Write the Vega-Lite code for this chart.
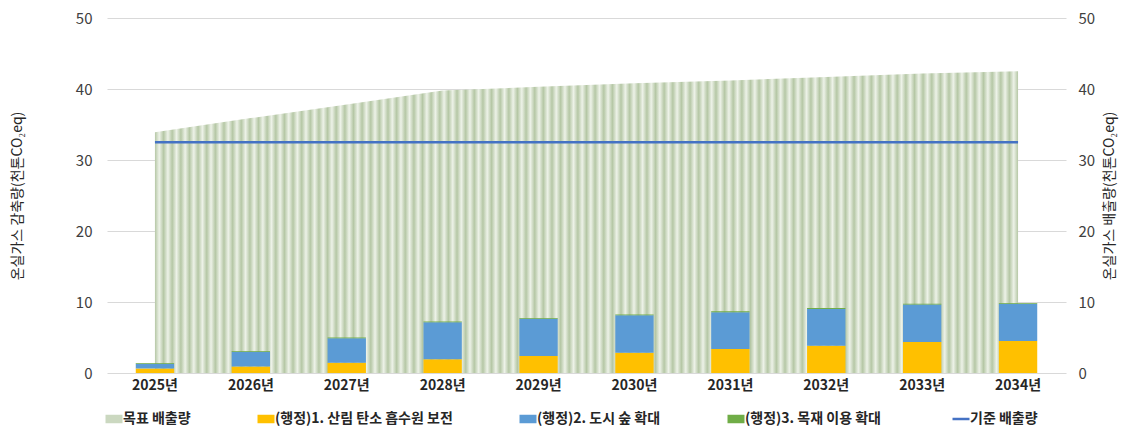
{
  "$schema": "https://vega.github.io/schema/vega-lite/v6.json",
  "width": 959,
  "height": 355,
  "autosize": "none",
  "padding": {"left": 107, "top": 18, "right": 65, "bottom": 61},
  "background": "white",
  "config": {
    "view": {"stroke": null},
    "font": "Noto Sans CJK KR",
    "axis": {"labelFont": "Noto Sans CJK KR", "titleFont": "Noto Sans CJK KR"},
    "legend": {"labelFont": "Noto Sans CJK KR"}
  },
  "datasets": {
    "bars": [
      {"year": "2025년", "series": "(행정)1. 산림 탄소 흡수원 보전", "k": 1, "value": 0.65},
      {"year": "2025년", "series": "(행정)2. 도시 숲 확대", "k": 2, "value": 0.64},
      {"year": "2025년", "series": "(행정)3. 목재 이용 확대", "k": 3, "value": 0.12},
      {"year": "2026년", "series": "(행정)1. 산림 탄소 흡수원 보전", "k": 1, "value": 0.93},
      {"year": "2026년", "series": "(행정)2. 도시 숲 확대", "k": 2, "value": 2.05},
      {"year": "2026년", "series": "(행정)3. 목재 이용 확대", "k": 3, "value": 0.12},
      {"year": "2027년", "series": "(행정)1. 산림 탄소 흡수원 보전", "k": 1, "value": 1.45},
      {"year": "2027년", "series": "(행정)2. 도시 숲 확대", "k": 2, "value": 3.43},
      {"year": "2027년", "series": "(행정)3. 목재 이용 확대", "k": 3, "value": 0.12},
      {"year": "2028년", "series": "(행정)1. 산림 탄소 흡수원 보전", "k": 1, "value": 1.92},
      {"year": "2028년", "series": "(행정)2. 도시 숲 확대", "k": 2, "value": 5.23},
      {"year": "2028년", "series": "(행정)3. 목재 이용 확대", "k": 3, "value": 0.12},
      {"year": "2029년", "series": "(행정)1. 산림 탄소 흡수원 보전", "k": 1, "value": 2.39},
      {"year": "2029년", "series": "(행정)2. 도시 숲 확대", "k": 2, "value": 5.24},
      {"year": "2029년", "series": "(행정)3. 목재 이용 확대", "k": 3, "value": 0.12},
      {"year": "2030년", "series": "(행정)1. 산림 탄소 흡수원 보전", "k": 1, "value": 2.86},
      {"year": "2030년", "series": "(행정)2. 도시 숲 확대", "k": 2, "value": 5.27},
      {"year": "2030년", "series": "(행정)3. 목재 이용 확대", "k": 3, "value": 0.12},
      {"year": "2031년", "series": "(행정)1. 산림 탄소 흡수원 보전", "k": 1, "value": 3.38},
      {"year": "2031년", "series": "(행정)2. 도시 숲 확대", "k": 2, "value": 5.18},
      {"year": "2031년", "series": "(행정)3. 목재 이용 확대", "k": 3, "value": 0.12},
      {"year": "2032년", "series": "(행정)1. 산림 탄소 흡수원 보전", "k": 1, "value": 3.85},
      {"year": "2032년", "series": "(행정)2. 도시 숲 확대", "k": 2, "value": 5.18},
      {"year": "2032년", "series": "(행정)3. 목재 이용 확대", "k": 3, "value": 0.12},
      {"year": "2033년", "series": "(행정)1. 산림 탄소 흡수원 보전", "k": 1, "value": 4.37},
      {"year": "2033년", "series": "(행정)2. 도시 숲 확대", "k": 2, "value": 5.27},
      {"year": "2033년", "series": "(행정)3. 목재 이용 확대", "k": 3, "value": 0.12},
      {"year": "2034년", "series": "(행정)1. 산림 탄소 흡수원 보전", "k": 1, "value": 4.5},
      {"year": "2034년", "series": "(행정)2. 도시 숲 확대", "k": 2, "value": 5.24},
      {"year": "2034년", "series": "(행정)3. 목재 이용 확대", "k": 3, "value": 0.12}
    ],
    "target": [
      {"year": "2025년", "value": 33.9},
      {"year": "2026년", "value": 35.9},
      {"year": "2027년", "value": 37.8},
      {"year": "2028년", "value": 39.8},
      {"year": "2029년", "value": 40.3},
      {"year": "2030년", "value": 40.8},
      {"year": "2031년", "value": 41.2},
      {"year": "2032년", "value": 41.7},
      {"year": "2033년", "value": 42.2},
      {"year": "2034년", "value": 42.5}
    ],
    "base": [
      {"year": "2025년", "value": 32.5},
      {"year": "2026년", "value": 32.5},
      {"year": "2027년", "value": 32.5},
      {"year": "2028년", "value": 32.5},
      {"year": "2029년", "value": 32.5},
      {"year": "2030년", "value": 32.5},
      {"year": "2031년", "value": 32.5},
      {"year": "2032년", "value": 32.5},
      {"year": "2033년", "value": 32.5},
      {"year": "2034년", "value": 32.5}
    ]
  },
  "encoding": {
    "x": {
      "field": "year",
      "type": "ordinal",
      "scale": {"paddingInner": 0.6, "paddingOuter": 0.3},
      "axis": {
        "title": null,
        "labelAngle": 0,
        "labelFontSize": 14,
        "labelFontWeight": "bold",
        "labelColor": "#262626",
        "labelPadding": 5,
        "ticks": false,
        "domain": false,
        "grid": false
      }
    }
  },
  "layer": [
    {
      "data": {"name": "target"},
      "mark": {
        "type": "area",
        "opacity": 1,
        "fill": {
          "gradient": "linear", "x1": 0, "y1": 0, "x2": 1, "y2": 0,
          "stops": [
            {"offset": 0, "color": "#b5c7a5"}, {"offset": 0.005, "color": "#edf2e8"},
            {"offset": 0.01, "color": "#b5c7a5"}, {"offset": 0.015, "color": "#edf2e8"},
            {"offset": 0.02, "color": "#b5c7a5"}, {"offset": 0.025, "color": "#edf2e8"},
            {"offset": 0.03, "color": "#b5c7a5"}, {"offset": 0.035, "color": "#edf2e8"},
            {"offset": 0.04, "color": "#b5c7a5"}, {"offset": 0.045, "color": "#edf2e8"},
            {"offset": 0.05, "color": "#b5c7a5"}, {"offset": 0.055, "color": "#edf2e8"},
            {"offset": 0.06, "color": "#b5c7a5"}, {"offset": 0.065, "color": "#edf2e8"},
            {"offset": 0.07, "color": "#b5c7a5"}, {"offset": 0.075, "color": "#edf2e8"},
            {"offset": 0.08, "color": "#b5c7a5"}, {"offset": 0.085, "color": "#edf2e8"},
            {"offset": 0.09, "color": "#b5c7a5"}, {"offset": 0.095, "color": "#edf2e8"},
            {"offset": 0.1, "color": "#b5c7a5"}, {"offset": 0.105, "color": "#edf2e8"},
            {"offset": 0.11, "color": "#b5c7a5"}, {"offset": 0.115, "color": "#edf2e8"},
            {"offset": 0.12, "color": "#b5c7a5"}, {"offset": 0.125, "color": "#edf2e8"},
            {"offset": 0.13, "color": "#b5c7a5"}, {"offset": 0.135, "color": "#edf2e8"},
            {"offset": 0.14, "color": "#b5c7a5"}, {"offset": 0.145, "color": "#edf2e8"},
            {"offset": 0.15, "color": "#b5c7a5"}, {"offset": 0.155, "color": "#edf2e8"},
            {"offset": 0.16, "color": "#b5c7a5"}, {"offset": 0.165, "color": "#edf2e8"},
            {"offset": 0.17, "color": "#b5c7a5"}, {"offset": 0.175, "color": "#edf2e8"},
            {"offset": 0.18, "color": "#b5c7a5"}, {"offset": 0.185, "color": "#edf2e8"},
            {"offset": 0.19, "color": "#b5c7a5"}, {"offset": 0.195, "color": "#edf2e8"},
            {"offset": 0.2, "color": "#b5c7a5"}, {"offset": 0.205, "color": "#edf2e8"},
            {"offset": 0.21, "color": "#b5c7a5"}, {"offset": 0.215, "color": "#edf2e8"},
            {"offset": 0.22, "color": "#b5c7a5"}, {"offset": 0.225, "color": "#edf2e8"},
            {"offset": 0.23, "color": "#b5c7a5"}, {"offset": 0.235, "color": "#edf2e8"},
            {"offset": 0.24, "color": "#b5c7a5"}, {"offset": 0.245, "color": "#edf2e8"},
            {"offset": 0.25, "color": "#b5c7a5"}, {"offset": 0.255, "color": "#edf2e8"},
            {"offset": 0.26, "color": "#b5c7a5"}, {"offset": 0.265, "color": "#edf2e8"},
            {"offset": 0.27, "color": "#b5c7a5"}, {"offset": 0.275, "color": "#edf2e8"},
            {"offset": 0.28, "color": "#b5c7a5"}, {"offset": 0.285, "color": "#edf2e8"},
            {"offset": 0.29, "color": "#b5c7a5"}, {"offset": 0.295, "color": "#edf2e8"},
            {"offset": 0.3, "color": "#b5c7a5"}, {"offset": 0.305, "color": "#edf2e8"},
            {"offset": 0.31, "color": "#b5c7a5"}, {"offset": 0.315, "color": "#edf2e8"},
            {"offset": 0.32, "color": "#b5c7a5"}, {"offset": 0.325, "color": "#edf2e8"},
            {"offset": 0.33, "color": "#b5c7a5"}, {"offset": 0.335, "color": "#edf2e8"},
            {"offset": 0.34, "color": "#b5c7a5"}, {"offset": 0.345, "color": "#edf2e8"},
            {"offset": 0.35, "color": "#b5c7a5"}, {"offset": 0.355, "color": "#edf2e8"},
            {"offset": 0.36, "color": "#b5c7a5"}, {"offset": 0.365, "color": "#edf2e8"},
            {"offset": 0.37, "color": "#b5c7a5"}, {"offset": 0.375, "color": "#edf2e8"},
            {"offset": 0.38, "color": "#b5c7a5"}, {"offset": 0.385, "color": "#edf2e8"},
            {"offset": 0.39, "color": "#b5c7a5"}, {"offset": 0.395, "color": "#edf2e8"},
            {"offset": 0.4, "color": "#b5c7a5"}, {"offset": 0.405, "color": "#edf2e8"},
            {"offset": 0.41, "color": "#b5c7a5"}, {"offset": 0.415, "color": "#edf2e8"},
            {"offset": 0.42, "color": "#b5c7a5"}, {"offset": 0.425, "color": "#edf2e8"},
            {"offset": 0.43, "color": "#b5c7a5"}, {"offset": 0.435, "color": "#edf2e8"},
            {"offset": 0.44, "color": "#b5c7a5"}, {"offset": 0.445, "color": "#edf2e8"},
            {"offset": 0.45, "color": "#b5c7a5"}, {"offset": 0.455, "color": "#edf2e8"},
            {"offset": 0.46, "color": "#b5c7a5"}, {"offset": 0.465, "color": "#edf2e8"},
            {"offset": 0.47, "color": "#b5c7a5"}, {"offset": 0.475, "color": "#edf2e8"},
            {"offset": 0.48, "color": "#b5c7a5"}, {"offset": 0.485, "color": "#edf2e8"},
            {"offset": 0.49, "color": "#b5c7a5"}, {"offset": 0.495, "color": "#edf2e8"},
            {"offset": 0.5, "color": "#b5c7a5"}, {"offset": 0.505, "color": "#edf2e8"},
            {"offset": 0.51, "color": "#b5c7a5"}, {"offset": 0.515, "color": "#edf2e8"},
            {"offset": 0.52, "color": "#b5c7a5"}, {"offset": 0.525, "color": "#edf2e8"},
            {"offset": 0.53, "color": "#b5c7a5"}, {"offset": 0.535, "color": "#edf2e8"},
            {"offset": 0.54, "color": "#b5c7a5"}, {"offset": 0.545, "color": "#edf2e8"},
            {"offset": 0.55, "color": "#b5c7a5"}, {"offset": 0.555, "color": "#edf2e8"},
            {"offset": 0.56, "color": "#b5c7a5"}, {"offset": 0.565, "color": "#edf2e8"},
            {"offset": 0.57, "color": "#b5c7a5"}, {"offset": 0.575, "color": "#edf2e8"},
            {"offset": 0.58, "color": "#b5c7a5"}, {"offset": 0.585, "color": "#edf2e8"},
            {"offset": 0.59, "color": "#b5c7a5"}, {"offset": 0.595, "color": "#edf2e8"},
            {"offset": 0.6, "color": "#b5c7a5"}, {"offset": 0.605, "color": "#edf2e8"},
            {"offset": 0.61, "color": "#b5c7a5"}, {"offset": 0.615, "color": "#edf2e8"},
            {"offset": 0.62, "color": "#b5c7a5"}, {"offset": 0.625, "color": "#edf2e8"},
            {"offset": 0.63, "color": "#b5c7a5"}, {"offset": 0.635, "color": "#edf2e8"},
            {"offset": 0.64, "color": "#b5c7a5"}, {"offset": 0.645, "color": "#edf2e8"},
            {"offset": 0.65, "color": "#b5c7a5"}, {"offset": 0.655, "color": "#edf2e8"},
            {"offset": 0.66, "color": "#b5c7a5"}, {"offset": 0.665, "color": "#edf2e8"},
            {"offset": 0.67, "color": "#b5c7a5"}, {"offset": 0.675, "color": "#edf2e8"},
            {"offset": 0.68, "color": "#b5c7a5"}, {"offset": 0.685, "color": "#edf2e8"},
            {"offset": 0.69, "color": "#b5c7a5"}, {"offset": 0.695, "color": "#edf2e8"},
            {"offset": 0.7, "color": "#b5c7a5"}, {"offset": 0.705, "color": "#edf2e8"},
            {"offset": 0.71, "color": "#b5c7a5"}, {"offset": 0.715, "color": "#edf2e8"},
            {"offset": 0.72, "color": "#b5c7a5"}, {"offset": 0.725, "color": "#edf2e8"},
            {"offset": 0.73, "color": "#b5c7a5"}, {"offset": 0.735, "color": "#edf2e8"},
            {"offset": 0.74, "color": "#b5c7a5"}, {"offset": 0.745, "color": "#edf2e8"},
            {"offset": 0.75, "color": "#b5c7a5"}, {"offset": 0.755, "color": "#edf2e8"},
            {"offset": 0.76, "color": "#b5c7a5"}, {"offset": 0.765, "color": "#edf2e8"},
            {"offset": 0.77, "color": "#b5c7a5"}, {"offset": 0.775, "color": "#edf2e8"},
            {"offset": 0.78, "color": "#b5c7a5"}, {"offset": 0.785, "color": "#edf2e8"},
            {"offset": 0.79, "color": "#b5c7a5"}, {"offset": 0.795, "color": "#edf2e8"},
            {"offset": 0.8, "color": "#b5c7a5"}, {"offset": 0.805, "color": "#edf2e8"},
            {"offset": 0.81, "color": "#b5c7a5"}, {"offset": 0.815, "color": "#edf2e8"},
            {"offset": 0.82, "color": "#b5c7a5"}, {"offset": 0.825, "color": "#edf2e8"},
            {"offset": 0.83, "color": "#b5c7a5"}, {"offset": 0.835, "color": "#edf2e8"},
            {"offset": 0.84, "color": "#b5c7a5"}, {"offset": 0.845, "color": "#edf2e8"},
            {"offset": 0.85, "color": "#b5c7a5"}, {"offset": 0.855, "color": "#edf2e8"},
            {"offset": 0.86, "color": "#b5c7a5"}, {"offset": 0.865, "color": "#edf2e8"},
            {"offset": 0.87, "color": "#b5c7a5"}, {"offset": 0.875, "color": "#edf2e8"},
            {"offset": 0.88, "color": "#b5c7a5"}, {"offset": 0.885, "color": "#edf2e8"},
            {"offset": 0.89, "color": "#b5c7a5"}, {"offset": 0.895, "color": "#edf2e8"},
            {"offset": 0.9, "color": "#b5c7a5"}, {"offset": 0.905, "color": "#edf2e8"},
            {"offset": 0.91, "color": "#b5c7a5"}, {"offset": 0.915, "color": "#edf2e8"},
            {"offset": 0.92, "color": "#b5c7a5"}, {"offset": 0.925, "color": "#edf2e8"},
            {"offset": 0.93, "color": "#b5c7a5"}, {"offset": 0.935, "color": "#edf2e8"},
            {"offset": 0.94, "color": "#b5c7a5"}, {"offset": 0.945, "color": "#edf2e8"},
            {"offset": 0.95, "color": "#b5c7a5"}, {"offset": 0.955, "color": "#edf2e8"},
            {"offset": 0.96, "color": "#b5c7a5"}, {"offset": 0.965, "color": "#edf2e8"},
            {"offset": 0.97, "color": "#b5c7a5"}, {"offset": 0.975, "color": "#edf2e8"},
            {"offset": 0.98, "color": "#b5c7a5"}, {"offset": 0.985, "color": "#edf2e8"},
            {"offset": 0.99, "color": "#b5c7a5"}, {"offset": 0.995, "color": "#edf2e8"},
            {"offset": 1, "color": "#b5c7a5"}
          ]
        }
      },
      "encoding": {
        "y": {
          "field": "value",
          "type": "quantitative",
          "scale": {"domain": [0, 50], "nice": false},
          "axis": {
            "orient": "right",
            "values": [0, 10, 20, 30, 40, 50],
            "grid": false,
            "ticks": false,
            "domain": false,
            "labelFontSize": 15,
            "labelColor": "#404040",
            "labelPadding": 12,
            "title": "온실가스 배출량(천톤CO₂eq)",
            "titleFontSize": 14,
            "titleFontWeight": "normal",
            "titleColor": "#262626",
            "titleAngle": 270,
            "titlePadding": 22
          }
        }
      }
    },
    {
      "data": {"name": "bars"},
      "mark": {"type": "bar"},
      "encoding": {
        "y": {
          "field": "value",
          "type": "quantitative",
          "stack": "zero",
          "scale": {"domain": [0, 50], "nice": false},
          "axis": {
            "orient": "left",
            "values": [0, 10, 20, 30, 40, 50],
            "grid": true,
            "gridColor": "#d9d9d9",
            "ticks": false,
            "domain": false,
            "labelFontSize": 15,
            "labelColor": "#404040",
            "labelPadding": 15,
            "title": "온실가스 감축량(천톤CO₂eq)",
            "titleFontSize": 14,
            "titleFontWeight": "normal",
            "titleColor": "#262626",
            "titlePadding": 51
          }
        },
        "order": {"field": "k", "type": "quantitative", "sort": "ascending"},
        "color": {
          "field": "series",
          "type": "nominal",
          "scale": {
            "domain": ["목표 배출량", "(행정)1. 산림 탄소 흡수원 보전", "(행정)2. 도시 숲 확대", "(행정)3. 목재 이용 확대", "기준 배출량"],
            "range": ["#cbd8c0", "#FFC000", "#5B9BD5", "#70AD47", "#4472C4"]
          },
          "legend": {
            "title": null,
            "orient": "bottom",
            "direction": "horizontal",
            "columns": 5,
            "offset": 20,
            "labelFontSize": 14,
            "labelColor": "#262626",
            "labelFontWeight": "bold",
            "labelLimit": 400,
            "labelOffset": 2,
            "columnPadding": 66,
            "symbolSize": 289,
            "encode": {
              "symbols": {
                "update": {
                  "shape": {"signal": "datum.value === '기준 배출량' ? 'stroke' : 'M-1,-0.5H1V0.5H-1Z'"},
                  "stroke": {"signal": "datum.value === '기준 배출량' ? '#4472C4' : 'transparent'"},
                  "strokeWidth": {"signal": "datum.value === '기준 배출량' ? 2.5 : 0"}
                }
              }
            }
          }
        }
      }
    },
    {
      "data": {"name": "base"},
      "mark": {"type": "line", "color": "#4472C4", "strokeWidth": 2.5},
      "encoding": {
        "y": {
          "field": "value",
          "type": "quantitative",
          "scale": {"domain": [0, 50], "nice": false},
          "axis": null
        }
      }
    }
  ],
  "resolve": {"scale": {"y": "independent"}}
}
